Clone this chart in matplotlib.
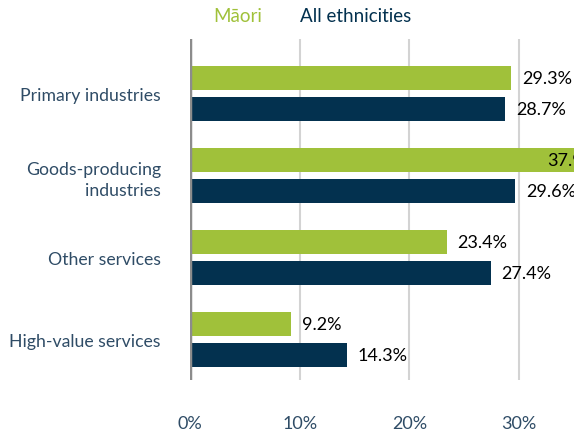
import matplotlib
matplotlib.use("Agg")
import matplotlib.pyplot as plt
import numpy as np

categories = ["Primary industries", "Goods-producing\nindustries", "Other services", "High-value services"]
maori = [29.3, 37.9, 23.4, 9.2]
all_eth = [28.7, 29.6, 27.4, 14.3]
xticks = [0, 10, 20, 30]

green = "#a0c13a"
navy = "#03314f"
slate = "#2f4c66"

plt.rcParams['font.family'] = ['Lato', 'DejaVu Sans']

fig = plt.figure(figsize=(5.74, 4.35), dpi=100)
ax = fig.add_axes([190/574, 54/435, 1 - 190/574, 341/435])

xmax = 35
y = np.arange(len(categories))
h = 0.29
off = 0.19
ax.barh(y - off, maori, height=h, color=green, zorder=3)
ax.barh(y + off, all_eth, height=h, color=navy, zorder=3)

for yy, vals in ((y - off, maori), (y + off, all_eth)):
    for yi, v in zip(yy, vals):
        # labels that would fall past the axis end sit on top of the bar
        xpos = v + 1.0 if v + 5 < xmax else 32.6
        ax.text(xpos, yi, f"{v:.1f}%", va="center", ha="left",
                fontsize=13, color="black", zorder=4, clip_on=False)

ax.set_xlim(0, xmax)
ax.set_ylim(3 + 40.5/82, -0.665)
ax.set_xticks(xticks)
ax.set_xticklabels([f"{t}%" for t in xticks], color=slate, fontsize=13)
ax.set_yticks(y)
ax.set_yticklabels(categories, color=slate, fontsize=12.7, ha="right", linespacing=1.4)
ax.tick_params(axis="x", length=0, pad=25.5)
ax.tick_params(axis="y", length=0, pad=21)
for s in ax.spines.values():
    s.set_visible(False)
for t in xticks[1:]:
    ax.axvline(t, color="#d3d3d3", lw=1.5, zorder=1)
ax.axvline(0, color="#8c8c8c", lw=2.5, zorder=4)

fig.text(213/574, 1 - 17/435, "Māori", color=green, fontsize=13.5, va="center")
fig.text(300/574, 1 - 17/435, "All ethnicities", color=navy, fontsize=13.5, va="center")

fig.savefig("out.png", dpi=100)
